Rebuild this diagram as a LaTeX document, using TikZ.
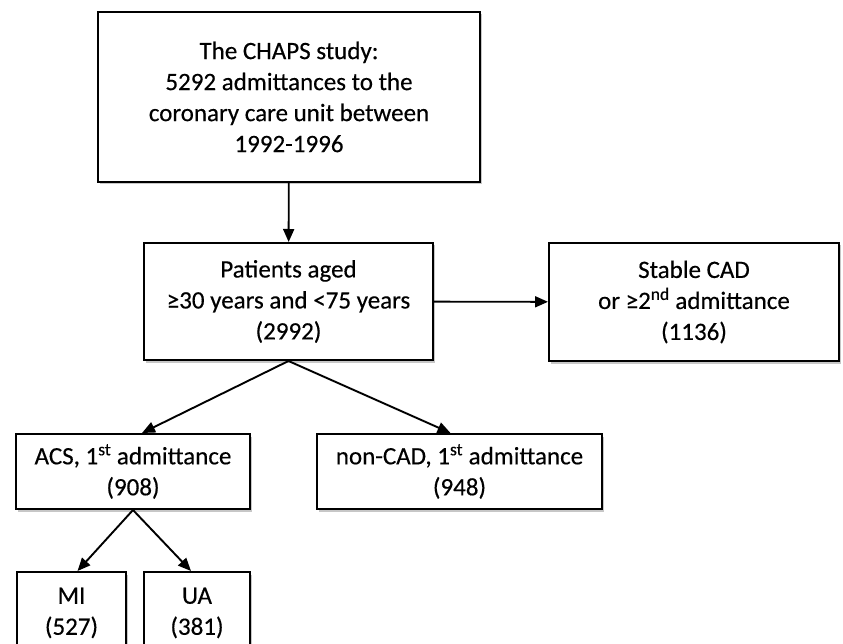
\documentclass[tikz,border=0pt]{standalone}
\usepackage{fontspec}
\setmainfont{Carlito}[BoldFont=Carlito, BoldFeatures={FakeBold=0.35}]
\usetikzlibrary{shadows,arrows.meta}

\tikzset{
  flowbox/.style={draw, line width=2pt, fill=white, align=center, inner sep=0pt,
    font=\fontsize{25}{31}\selectfont\bfseries,
    drop shadow={shadow xshift=1.5pt, shadow yshift=-2.5pt, fill=black, opacity=0.22}},
  flowarrow/.style={-{Triangle[length=13pt,width=11pt]}, line width=1.9pt}
}

\begin{document}
\begin{tikzpicture}[x=1pt, y=-1pt]
\clip (0,0) rectangle (843,644);
\fill[white] (0,0) rectangle (843,644);

%--- Study population ---
\node[flowbox, minimum width=382pt, minimum height=170pt] (chaps) at (289,97)
  {The CHAPS study:\\5292 admittances to the\\coronary care unit between\\1992-1996};

%--- Age selection and exclusions ---
\node[flowbox, minimum width=289pt, minimum height=117pt] (aged) at (288.5,301.5)
  {Patients aged\\≥30 years and <75 years\\(2992)};
\node[flowbox, minimum width=290pt, minimum height=118pt] (stable) at (694,302)
  {Stable CAD\\or ≥2\textsuperscript{nd} admittance\\(1136)};

%--- First admittance groups ---
\node[flowbox, minimum width=234pt, minimum height=75pt] (acs) at (133,471.5)
  {ACS, 1\textsuperscript{st} admittance\\(908)};
\node[flowbox, minimum width=285pt, minimum height=75pt] (noncad) at (459.5,471.5)
  {non-CAD, 1\textsuperscript{st} admittance\\(948)};

%--- ACS subgroups (cut at the lower edge) ---
\node[flowbox, minimum width=109pt, minimum height=82pt] (mi) at (71.5,613) {MI\\(527)};
\node[flowbox, minimum width=106pt, minimum height=82pt] (ua) at (197,613) {UA\\(381)};

% Arrows
\draw[flowarrow] (chaps) -- (aged);
\draw[flowarrow] (aged) -- (stable);
\draw[flowarrow] (aged.south) -- ([xshift=9pt]acs.north);
\draw[flowarrow] (aged.south) -- ([xshift=-9pt]noncad.north);
\draw[flowarrow] (acs.south) -- ([xshift=6pt]mi.north);
\draw[flowarrow] (acs.south) -- ([xshift=-6pt]ua.north);
\end{tikzpicture}
\end{document}
